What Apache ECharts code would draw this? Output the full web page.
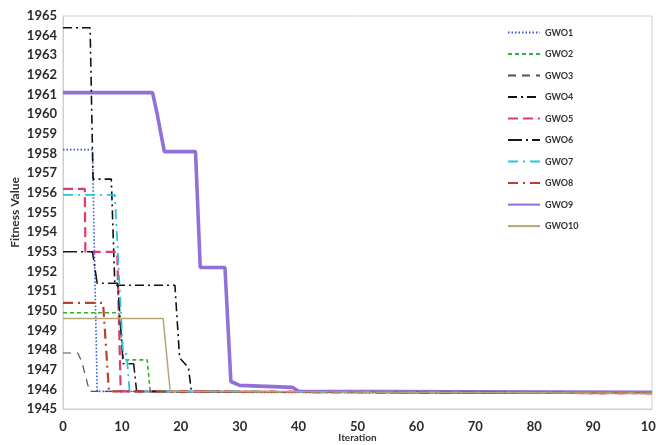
<!DOCTYPE html>
<html>
<head>
<meta charset="utf-8">
<script src="https://cdn.jsdelivr.net/npm/echarts@6/dist/echarts.min.js"></script>
<style>html,body{margin:0;padding:0;background:#fff}#c{width:656px;height:445px}</style>
</head>
<body>
<div id="c"></div>
<script>
var seriesNames = ['GWO1','GWO2','GWO3','GWO4','GWO5','GWO6','GWO7','GWO8','GWO9','GWO10'];
var xTicks = [0,10,20,30,40,50,60,70,80,90,100];
var yTicks = [1945,1946,1947,1948,1949,1950,1951,1952,1953,1954,1955,1956,1957,1958,1959,1960,1961,1962,1963,1964,1965];

var gwo1 = [[0,1958.2],[5.0,1958.2],[5.8,1945.9],[30,1945.85],[100,1945.8]];
var gwo2 = [[0,1949.9],[9.5,1949.9],[10.3,1947.5],[14.3,1947.5],[14.8,1945.9],[100,1945.8]];
var gwo3 = [[0,1947.85],[2.5,1947.85],[3.2,1947.4],[3.8,1946.7],[4.5,1945.9],[100,1945.8]];
var gwo4 = [[0,1964.4],[4.6,1964.4],[5.1,1956.7],[8.2,1956.7],[8.8,1951.3],[19.0,1951.3],[19.8,1947.6],[21.3,1947.1],[21.8,1945.9],[100,1945.8]];
var gwo5 = [[0,1956.2],[3.7,1956.2],[3.8,1953.0],[9.2,1953.0],[9.8,1945.9],[100,1945.8]];
var gwo6 = [[0,1953.0],[5.0,1953.0],[5.8,1951.4],[9.3,1951.4],[10.2,1947.3],[12.0,1947.3],[12.5,1945.9],[100,1945.8]];
var gwo7 = [[0,1955.9],[8.8,1955.9],[10.2,1947.8],[10.8,1947.8],[11.3,1945.9],[100,1945.8]];
var gwo8 = [[0,1950.4],[6.8,1950.4],[7.8,1945.9],[100,1945.8]];
var gwo9 = [[0,1961.1],[15.2,1961.1],[16.0,1960.0],[17.2,1958.1],[22.5,1958.1],[23.3,1952.2],[27.5,1952.2],[28.5,1946.4],[30,1946.2],[39,1946.1],[40,1945.9],[100,1945.85]];
var gwo10 = [[0,1949.6],[17.0,1949.6],[18.2,1945.9],[100,1945.8]];

var seriesData = [gwo1,gwo2,gwo3,gwo4,gwo5,gwo6,gwo7,gwo8,gwo9,gwo10];
var styles = [
  {color:'#3a55e0', width:1.6, type:[1.5,2]},
  {color:'#2fb52f', width:1.6, type:[4,3]},
  {color:'#555555', width:1.2, type:[8,6]},
  {color:'#111111', width:1.6, type:[9,4,2,4]},
  {color:'#e23a6e', width:2.2, type:[10,5]},
  {color:'#1a1a1a', width:1.6, type:[14,4,2,4]},
  {color:'#22c7e4', width:1.8, type:[10,5,2,5]},
  {color:'#b8402f', width:2.2, type:[10,5,2,5]},
  {color:'#9370d8', width:3.6, type:'solid'},
  {color:'#b6a673', width:1.5, type:'solid'}
];

var series = seriesNames.map(function(n,i){
  return {
    name:n, type:'line', data:seriesData[i], symbol:'none', z: (i===8?1:2),
    lineStyle:{color:styles[i].color, width:styles[i].width, type:styles[i].type},
    itemStyle:{color:styles[i].color}
  };
});

var chart = echarts.init(document.getElementById('c'));
chart.setOption({
  animation:false,
  backgroundColor:'#fff',
  grid:{left:63, right:4, top:16, bottom:36, show:true, borderColor:'#cfcfcf', borderWidth:1,
    containLabel:false, outerBoundsMode:'none'},
  legend:{
    orient:'vertical', left:502, top:22, itemWidth:32, itemHeight:14, itemGap:10.3,
    itemStyle:{opacity:0},
    textStyle:{fontSize:9, fontWeight:'bold', color:'#333', fontFamily:'Lato'},
    data:seriesNames
  },
  xAxis:{
    type:'value', min:xTicks[0], max:xTicks[xTicks.length-1], interval:10,
    name:'Iteration', nameLocation:'middle', nameGap:24, nameMoveOverlap:false,
    nameTextStyle:{fontSize:10, fontWeight:'bold', color:'#333', fontFamily:'Lato'},
    axisLine:{show:true, lineStyle:{color:'#cfcfcf'}}, axisTick:{show:false},
    splitLine:{show:false},
    axisLabel:{fontSize:13, fontWeight:'bold', color:'#2a2a2a', fontFamily:'Lato', margin:11}
  },
  yAxis:{
    type:'value', min:yTicks[0], max:yTicks[yTicks.length-1], interval:1,
    name:'Fitness Value', nameLocation:'middle', nameGap:42, nameMoveOverlap:false,
    nameTextStyle:{fontSize:12, fontWeight:'bold', color:'#333', fontFamily:'Lato'},
    axisLine:{show:true, lineStyle:{color:'#cfcfcf'}}, axisTick:{show:false},
    splitLine:{show:false},
    axisLabel:{fontSize:13, fontWeight:'bold', color:'#2a2a2a', fontFamily:'Lato', margin:6,
      formatter:function(v){return String(v);}}
  },
  series:series
});
</script>
</body>
</html>
